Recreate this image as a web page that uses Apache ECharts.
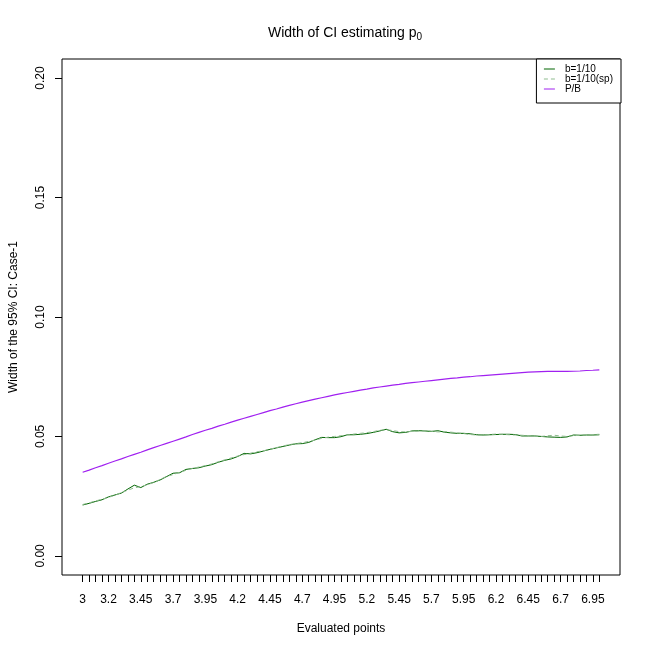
<!DOCTYPE html>
<html>
<head>
<meta charset="utf-8">
<script src="https://cdn.jsdelivr.net/npm/echarts@6/dist/echarts.min.js"></script>
<style>html,body{margin:0;padding:0;background:#fff}#c{width:650px;height:650px}</style>
</head>
<body>
<div id="c"></div>
<script>
var xPoints = [3, 3.05, 3.1, 3.15, 3.2, 3.25, 3.3, 3.35, 3.4, 3.45, 3.5, 3.55, 3.6, 3.65, 3.7, 3.75, 3.8, 3.85, 3.9, 3.95,
  4, 4.05, 4.1, 4.15, 4.2, 4.25, 4.3, 4.35, 4.4, 4.45, 4.5, 4.55, 4.6, 4.65, 4.7, 4.75, 4.8, 4.85, 4.9, 4.95,
  5, 5.05, 5.1, 5.15, 5.2, 5.25, 5.3, 5.35, 5.4, 5.45, 5.5, 5.55, 5.6, 5.65, 5.7, 5.75, 5.8, 5.85, 5.9, 5.95,
  6, 6.05, 6.1, 6.15, 6.2, 6.25, 6.3, 6.35, 6.4, 6.45, 6.5, 6.55, 6.6, 6.65, 6.7, 6.75, 6.8, 6.85, 6.9, 6.95, 7];

var xLabelValues = [3, 3.2, 3.45, 3.7, 3.95, 4.2, 4.45, 4.7, 4.95, 5.2, 5.45, 5.7, 5.95, 6.2, 6.45, 6.7, 6.95];
var xLabelTexts = ['3', '3.2', '3.45', '3.7', '3.95', '4.2', '4.45', '4.7', '4.95', '5.2', '5.45', '5.7', '5.95', '6.2', '6.45', '6.7', '6.95'];
var yTickValues = [0, 0.05, 0.1, 0.15, 0.2];
var yTickTexts = ['0.00', '0.05', '0.10', '0.15', '0.20'];

var seriesNames = ['b=1/10', 'b=1/10(sp)', 'P/B'];

var widthB10 = [0.0213, 0.0220, 0.0228, 0.0235, 0.0247, 0.0255, 0.0263, 0.0280, 0.0296, 0.0286,
  0.0300, 0.0308, 0.0318, 0.0332, 0.0346, 0.0348, 0.0362, 0.0366, 0.0369, 0.0376,
  0.0382, 0.0392, 0.0400, 0.0406, 0.0416, 0.0429, 0.0427, 0.0432, 0.0439, 0.0446,
  0.0452, 0.0458, 0.0464, 0.0469, 0.0470, 0.0475, 0.0486, 0.0496, 0.0495, 0.0495,
  0.0499, 0.0507, 0.0507, 0.0509, 0.0512, 0.0517, 0.0523, 0.0530, 0.0520, 0.0515,
  0.0517, 0.0523, 0.0524, 0.0523, 0.0521, 0.0524, 0.0518, 0.0515, 0.0513, 0.0513,
  0.0511, 0.0507, 0.0506, 0.0507, 0.0508, 0.0509, 0.0509, 0.0508, 0.0502, 0.0502,
  0.0502, 0.0500, 0.0498, 0.0497, 0.0496, 0.0498, 0.0506, 0.0505, 0.0506, 0.0506, 0.0507];

var widthB10sp = [0.0215, 0.0222, 0.0230, 0.0237, 0.0245, 0.0254, 0.0265, 0.0275, 0.0285, 0.0290,
  0.0298, 0.0307, 0.0320, 0.0333, 0.0340, 0.0350, 0.0358, 0.0366, 0.0372, 0.0378,
  0.0385, 0.0394, 0.0402, 0.0410, 0.0418, 0.0424, 0.0430, 0.0436, 0.0440, 0.0447,
  0.0453, 0.0460, 0.0466, 0.0470, 0.0474, 0.0479, 0.0485, 0.0492, 0.0497, 0.0500,
  0.0503, 0.0506, 0.0510, 0.0513, 0.0516, 0.0520, 0.0526, 0.0528, 0.0525, 0.0520,
  0.0519, 0.0521, 0.0522, 0.0524, 0.0522, 0.0519, 0.0520, 0.0518, 0.0515, 0.0512,
  0.0508, 0.0506, 0.0505, 0.0508, 0.0510, 0.0509, 0.0507, 0.0506, 0.0505, 0.0503,
  0.0501, 0.0500, 0.0503, 0.0505, 0.0502, 0.0500, 0.0503, 0.0505, 0.0507, 0.0508, 0.0509];

var widthPB = [0.0350, 0.0359, 0.0369, 0.0378, 0.0388, 0.0397, 0.0406, 0.0416, 0.0425, 0.0434,
  0.0444, 0.0453, 0.0462, 0.0471, 0.0480, 0.0489, 0.0498, 0.0508, 0.0517, 0.0526,
  0.0534, 0.0543, 0.0551, 0.0560, 0.0568, 0.0576, 0.0584, 0.0592, 0.0600, 0.0608,
  0.0615, 0.0623, 0.0630, 0.0637, 0.0644, 0.0650, 0.0656, 0.0662, 0.0668, 0.0674,
  0.0679, 0.0684, 0.0689, 0.0694, 0.0698, 0.0703, 0.0707, 0.0711, 0.0715, 0.0718,
  0.0722, 0.0725, 0.0728, 0.0731, 0.0734, 0.0737, 0.0740, 0.0743, 0.0745, 0.0748,
  0.0750, 0.0753, 0.0755, 0.0757, 0.0759, 0.0761, 0.0763, 0.0765, 0.0767, 0.0769,
  0.0770, 0.0771, 0.0772, 0.0772, 0.0772, 0.0772, 0.0773, 0.0774, 0.0776, 0.0777, 0.0779];

function pairs(ys) { return xPoints.map(function (x, i) { return [x, ys[i]]; }); }

var FONT = 'Liberation Sans, Arial, Helvetica, sans-serif';
var chart = echarts.init(document.getElementById('c'), null, { renderer: 'canvas' });
chart.setOption({
  animation: false,
  backgroundColor: '#fff',
  textStyle: { fontFamily: FONT, color: '#000' },
  title: {
    text: 'Width of CI estimating p{sub|0}',
    left: 340, top: 20, textAlign: 'center',
    textStyle: {
      fontFamily: FONT, fontSize: 14, fontWeight: 'normal', color: '#000',
      rich: { sub: { fontFamily: FONT, fontSize: 10, color: '#000', padding: [7, 0, 0, 0] } }
    }
  },
  legend: {
    orient: 'vertical', right: 29, top: 59,
    itemWidth: 11, itemHeight: 7, itemGap: 0,
    padding: [5, 8, 9, 7],
    borderColor: '#000', borderWidth: 1, borderRadius: 0,
    backgroundColor: '#fff', align: 'left',
    itemStyle: { color: 'rgba(0,0,0,0)', borderColor: 'rgba(0,0,0,0)', borderWidth: 0, opacity: 0 },
    lineStyle: { width: 1 },
    textStyle: { fontFamily: FONT, fontSize: 10, lineHeight: 9.3, color: '#000', padding: [0, 0, 0, 5] },
    data: seriesNames
  },
  grid: {
    left: 60, right: 30, top: 59, bottom: 75,
    show: true, borderColor: '#000', borderWidth: 1, backgroundColor: 'transparent'
  },
  xAxis: {
    type: 'value', min: 2.84, max: 7.16,
    name: 'Evaluated points', nameLocation: 'middle', nameGap: 48,
    nameTextStyle: { fontFamily: FONT, fontSize: 12, color: '#000' },
    axisLine: { show: false, onZero: false },
    splitLine: { show: false },
    axisTick: { show: true, length: 7, inside: false, customValues: xPoints, lineStyle: { color: '#000', width: 1 } },
    axisLabel: {
      show: true, margin: 19, fontFamily: FONT, fontSize: 12, color: '#000',
      customValues: xLabelValues, hideOverlap: false, showMinLabel: true, showMaxLabel: true,
      formatter: function (v) {
        for (var i = 0; i < xLabelValues.length; i++) { if (Math.abs(xLabelValues[i] - v) < 1e-6) return xLabelTexts[i]; }
        return '';
      }
    }
  },
  yAxis: {
    type: 'value', min: -0.008, max: 0.208,
    name: 'Width of the 95% CI: Case-1', nameLocation: 'middle', nameGap: 42,
    nameTextStyle: { fontFamily: FONT, fontSize: 12, color: '#000' },
    axisLine: { show: false, onZero: false },
    splitLine: { show: false },
    axisTick: { show: true, length: 7, inside: false, customValues: yTickValues, lineStyle: { color: '#000', width: 1 } },
    axisLabel: {
      show: true, margin: 15, rotate: 90, fontFamily: FONT, fontSize: 12, color: '#000',
      customValues: yTickValues, showMinLabel: true, showMaxLabel: true,
      formatter: function (v) {
        for (var i = 0; i < yTickValues.length; i++) { if (Math.abs(yTickValues[i] - v) < 1e-9) return yTickTexts[i]; }
        return '';
      }
    }
  },
  series: [
    { name: seriesNames[0], type: 'line', data: pairs(widthB10), symbol: 'none', showSymbol: false,
      lineStyle: { color: '#006400', width: 1 }, itemStyle: { color: '#006400' } },
    { name: seriesNames[1], type: 'line', data: pairs(widthB10sp), symbol: 'none', showSymbol: false,
      lineStyle: { color: '#8fbc8f', width: 1, type: [4, 3] }, itemStyle: { color: '#8fbc8f' } },
    { name: seriesNames[2], type: 'line', data: pairs(widthPB), symbol: 'none', showSymbol: false,
      lineStyle: { color: '#A020F0', width: 1.2 }, itemStyle: { color: '#A020F0' } }
  ]
});
</script>
</body>
</html>
